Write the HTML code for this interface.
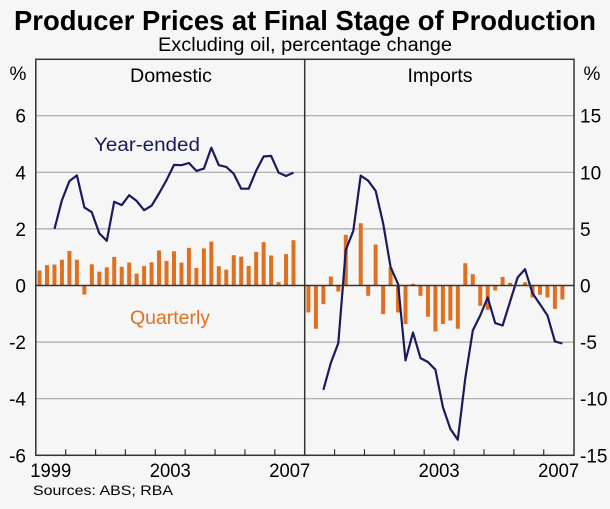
<!DOCTYPE html>
<html><head><meta charset="utf-8"><style>
body{margin:0;background:#f6f6f6;}
svg{display:block;font-family:"Liberation Sans",Arial,sans-serif;}
</style></head><body>
<svg id="c" width="610" height="509" viewBox="0 0 610 509">
<rect width="610" height="509" fill="#f6f6f6"/>
<text x="305" y="30" text-anchor="middle" font-size="28" font-weight="bold" fill="#000" textLength="582" lengthAdjust="spacingAndGlyphs">Producer Prices at Final Stage of Production</text>
<text x="305" y="51" text-anchor="middle" font-size="19" fill="#000" textLength="294" lengthAdjust="spacingAndGlyphs">Excluding oil, percentage change</text>
<g id="grid"></g>
<g id="marks"></g>
<g id="frame"></g>
<text x="171" y="82" text-anchor="middle" font-size="19" textLength="82" lengthAdjust="spacingAndGlyphs">Domestic</text>
<text x="440" y="82" text-anchor="middle" font-size="19" textLength="65" lengthAdjust="spacingAndGlyphs">Imports</text>
<text x="18" y="80" text-anchor="middle" font-size="19">%</text>
<text x="592" y="80" text-anchor="middle" font-size="19">%</text>
<text x="147" y="151" text-anchor="middle" font-size="19" fill="#1a1a5e" textLength="106" lengthAdjust="spacingAndGlyphs">Year-ended</text>
<text x="170" y="324" text-anchor="middle" font-size="19" fill="#e07020" textLength="80" lengthAdjust="spacingAndGlyphs">Quarterly</text>
<text x="33" y="495" font-size="14" textLength="140" lengthAdjust="spacingAndGlyphs">Sources: ABS; RBA</text>
</svg>
<script>
const leftTicks=[6,4,2,0,-2,-4,-6];
const rightTicks=[15,10,5,0,-5,-10,-15];
const yearLabelsL=["1999","2003","2007"];
const yearLabelsR=["2003","2007"];
const domQ=[0.53,0.72,0.74,0.91,1.22,0.91,-0.32,0.75,0.49,0.64,1.01,0.66,0.81,0.42,0.69,0.82,1.24,0.87,1.21,0.81,1.33,0.62,1.31,1.55,0.68,0.56,1.07,1.02,0.69,1.19,1.53,1.06,0.12,1.11,1.6];
const domY=[null,null,2.0,3.01,3.69,3.89,2.76,2.59,1.84,1.58,2.96,2.84,3.19,2.99,2.66,2.82,3.25,3.72,4.26,4.25,4.33,4.05,4.13,4.87,4.25,4.19,3.95,3.42,3.42,4.05,4.56,4.58,3.99,3.87,3.99];
const impQ=[-2.38,-3.82,-1.65,0.79,-0.53,4.47,0,5.5,-0.91,3.62,-2.53,1.59,-2.38,-3.41,0.15,-0.91,-2.76,-4.06,-3.41,-3.09,-3.82,1.97,1.0,-1.79,-2.15,-0.44,0.76,0.24,0,0.29,-1.06,-0.82,-1.06,-2.06,-1.24];
const impY=[null,null,-9.21,-6.85,-5.09,3.15,4.82,9.71,9.26,8.35,5.5,1.62,0.12,-6.62,-4.15,-6.41,-6.76,-7.44,-10.74,-12.68,-13.62,-8.18,-3.97,-2.65,-1.06,-3.32,-3.53,-1.41,0.71,1.44,-0.68,-1.65,-2.65,-4.94,-5.12];

const NS="http://www.w3.org/2000/svg";
const L0=35.8,MID=304.7,R1=574,TOP=59.3,BOT=455.3,Q=(MID-L0)/36;
const yL=v=>285.5-v*28.3;
const yR=v=>285.5-v*28.3/2.5;
const xL=i=>L0+Q*(i+0.5);
const xR=i=>MID+Q*(i+0.5);
function mk(tag,attrs,parent){const e=document.createElementNS(NS,tag);for(const k in attrs)e.setAttribute(k,attrs[k]);document.getElementById(parent).appendChild(e);return e;}
leftTicks.forEach(t=>{
  if(t!==0&&t!==-6){const g=mk('line',{x1:L0,x2:R1,y1:yL(t),y2:yL(t),stroke:'#a8a8a8','stroke-width':1.2},'grid');
  
  }
  const tx=mk('text',{x:26,y:yL(t)+7,'text-anchor':'end','font-size':19},'grid');tx.textContent=t;
  
  
});
rightTicks.forEach(t=>{
  const tx=mk('text',{x:580,y:yR(t)+7,'font-size':19},'grid');tx.textContent=t;
  
  
});
function panel(q,yv,xf,yf,name){
  q.forEach((v,i)=>{
    const y0=yf(0),y1=yf(v);
    const r=mk('rect',{x:xf(i)-2,y:Math.min(y0,y1),width:4,height:Math.abs(y1-y0),fill:'#e07020'},'marks');
    
    
  });
  const pts=[];yv.forEach((v,i)=>{if(v!==null)pts.push(xf(i).toFixed(1)+','+yf(v).toFixed(1));});
  const p=mk('polyline',{points:pts.join(' '),fill:'none',stroke:'#1a1a5e','stroke-width':2.2,'stroke-linejoin':'round'},'marks');
  
  
}
panel(domQ,domY,xL,yL,'domestic-year-ended-line');
panel(impQ,impY,xR,yR,'imports-year-ended-line');
const z=mk('line',{x1:L0,x2:R1,y1:yL(0),y2:yL(0),stroke:'#333','stroke-width':1.5},'frame');


const fr=mk('rect',{x:L0,y:TOP,width:R1-L0,height:BOT-TOP,fill:'none',stroke:'#333','stroke-width':1.5},'frame');


const dv=mk('line',{x1:MID,x2:MID,y1:TOP,y2:BOT,stroke:'#333','stroke-width':1.5},'frame');


for(let k=1;k<18;k++){ if(k===9)continue;
  const x=L0+Q*4*k;
  const t=mk('line',{x1:x,x2:x,y1:BOT,y2:BOT-6,stroke:'#333','stroke-width':1.2},'frame');
  
  
}
yearLabelsL.forEach((s,j)=>{
  const tx=mk('text',{x:xL(16*j+1.5),y:477,'text-anchor':'middle','font-size':19,textLength:41,lengthAdjust:'spacingAndGlyphs'},'frame');tx.textContent=s;
  
  
});
yearLabelsR.forEach((s,j)=>{
  const tx=mk('text',{x:xR(16*j+17.5),y:477,'text-anchor':'middle','font-size':19,textLength:41,lengthAdjust:'spacingAndGlyphs'},'frame');tx.textContent=s;
  
  
});
</script>
</body></html>
